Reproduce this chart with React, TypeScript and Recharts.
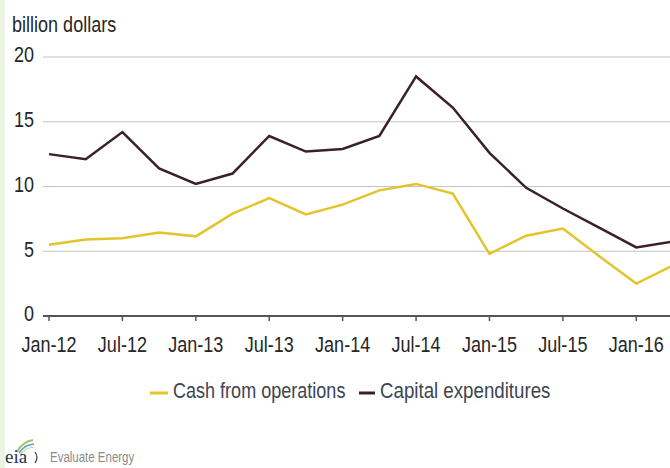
import React from 'react';
import { LineChart, Line, XAxis, YAxis, CartesianGrid, Legend } from 'recharts';

const quarters = ['Jan-12', 'Apr-12', 'Jul-12', 'Oct-12', 'Jan-13', 'Apr-13', 'Jul-13', 'Oct-13', 'Jan-14', 'Apr-14', 'Jul-14', 'Oct-14', 'Jan-15', 'Apr-15', 'Jul-15', 'Oct-15', 'Jan-16', 'Apr-16'];
const cashFromOperations = [5.5, 5.9, 6.0, 6.45, 6.15, 7.9, 9.1, 7.85, 8.6, 9.7, 10.2, 9.45, 4.8, 6.2, 6.75, 4.6, 2.5, 3.9];
const capitalExpenditures = [12.5, 12.1, 14.2, 11.4, 10.2, 11.0, 13.9, 12.7, 12.9, 13.9, 18.5, 16.1, 12.6, 9.9, 8.3, 6.8, 5.3, 5.75];
const yTicks = [0, 5, 10, 15, 20];

const data = quarters.map((q, i) => ({ q, cash: cashFromOperations[i], capex: capitalExpenditures[i] }));

const FONT = "'Liberation Sans', Arial, sans-serif";
const CASH_COLOR = '#e3c42c';
const CAPEX_COLOR = '#3a2128';

const XTick = (props: any) => {
  const { x, y, payload } = props;
  return (
    <g transform={`translate(${x},${y})`}>
      <text transform="scale(0.82,1)" textAnchor="middle" dy="0.71em" fontSize={22} fill="#262626" fontFamily={FONT}>
        {payload.value}
      </text>
    </g>
  );
};

const YTick = (props: any) => {
  const { x, y, payload } = props;
  return (
    <g transform={`translate(${x},${y})`}>
      <text transform="scale(0.82,1)" textAnchor="end" dy={5.4} fontSize={22} fill="#262626" fontFamily={FONT}>
        {payload.value}
      </text>
    </g>
  );
};

const LegendContent = () => (
  <svg width={670} height={40} style={{ display: 'block' }}>
    <line x1={150} x2={168} y1={21} y2={21} stroke={CASH_COLOR} strokeWidth={3} />
    <g transform="translate(173,26)">
      <text transform="scale(0.82,1)" fontSize={22} fill="#3d4452" fontFamily={FONT}>Cash from operations</text>
    </g>
    <line x1={359} x2={375} y1={21} y2={21} stroke={CAPEX_COLOR} strokeWidth={3} />
    <g transform="translate(380,26)">
      <text transform="scale(0.85,1)" fontSize={22} fill="#3d4452" fontFamily={FONT}>Capital expenditures</text>
    </g>
  </svg>
);

export default function App() {
  return (
    <div style={{ position: 'absolute', left: 0, top: 0, width: 670, height: 468, overflow: 'hidden', background: '#fff' }}>
      <div style={{ position: 'absolute', left: 0, top: 0, width: 5, height: 468, background: '#eef4e4' }} />
      <LineChart width={680} height={468} data={data} margin={{ top: 57, right: 7, bottom: 122, left: 0 }}>
        <CartesianGrid vertical={false} stroke="#c4c4c4" strokeWidth={1} />
        <XAxis
          dataKey="q"
          interval={1}
          tickSize={5}
          tickMargin={15}
          padding={{ left: 6, right: 0 }}
          axisLine={{ stroke: '#555', strokeWidth: 2 }}
          tickLine={{ stroke: '#555', strokeWidth: 1.5 }}
          tick={<XTick />}
          height={30}
        />
        <YAxis
          width={43}
          domain={[0, 20]}
          ticks={yTicks}
          interval={0}
          axisLine={false}
          tickLine={false}
          tickSize={0}
          tickMargin={9}
          tick={<YTick />}
          label={{
            content: () => (
              <g transform="translate(12,32)">
                <text transform="scale(0.82,1)" fontSize={22} fill="#262626" fontFamily={FONT}>billion dollars</text>
              </g>
            ),
          }}
        />
        <Legend
          layout="horizontal"
          verticalAlign="middle"
          align="center"
          wrapperStyle={{ top: 372, left: 0, width: 670, height: 40 }}
          content={<LegendContent />}
        />
        <Line type="linear" dataKey="cash" name="Cash from operations" stroke={CASH_COLOR} strokeWidth={2.5} dot={false} isAnimationActive={false} />
        <Line type="linear" dataKey="capex" name="Capital expenditures" stroke={CAPEX_COLOR} strokeWidth={2.5} dot={false} isAnimationActive={false} />
      </LineChart>
      <svg width={160} height={30} style={{ position: 'absolute', left: 0, top: 436 }}>
        <path d="M17 16 Q22 6 33 4" fill="none" stroke="#9cc86a" strokeWidth={2} />
        <path d="M19 17 Q24 9 34 8" fill="none" stroke="#5aa0d0" strokeWidth={1.5} />
        <path d="M20 19 Q25 12 34 11" fill="none" stroke="#b8d890" strokeWidth={1.2} />
        <text x={5} y={27} fontSize={19} fill="#2b3550" fontFamily="'Liberation Serif', 'DejaVu Serif', serif">eia</text>
        <path d="M35 16 Q39 21 35 27" fill="none" stroke="#2b3550" strokeWidth={1.2} />
        <g transform="translate(50,26)">
          <text transform="scale(0.82,1)" fontSize={14} fill="#8a8a8a" fontFamily={FONT}>Evaluate Energy</text>
        </g>
      </svg>
    </div>
  );
}
